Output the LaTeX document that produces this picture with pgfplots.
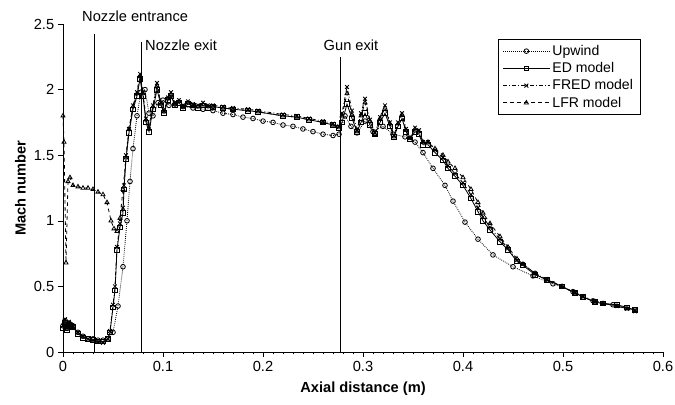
\documentclass[border=0pt]{standalone}
\usepackage{fontspec}
\setmainfont{Liberation Sans}
\usepackage{pgfplots}
\pgfplotsset{compat=1.18}
\begin{document}
\begin{tikzpicture}
\begin{axis}[
    name=ax, at={(0,0)}, anchor=south west,
    scale only axis,
    width=18cm, height=9.84cm,
    xmin=0, xmax=0.6, ymin=0, ymax=2.5,
    axis lines=left,
    axis line style={-, black, line width=0.5pt},
    xtick={0,0.1,...,0.6},
    ytick={0,0.5,...,2.5},
    minor x tick num=9,
    tick align=outside,
    major tick length=4pt, minor tick length=2pt,
    tick style={black, line width=0.4pt},
    xticklabel style={/pgf/number format/fixed, /pgf/number format/precision=1, font=\fontsize{12.5}{14}\selectfont},
    yticklabel style={/pgf/number format/fixed, /pgf/number format/precision=1, font=\fontsize{12.5}{14}\selectfont},
    /pgf/number format/assume math mode=true,
    xlabel={\textbf{Axial distance (m)}},
    ylabel={\textbf{Mach number}},
    label style={font=\fontsize{12.5}{14}\selectfont},
    xlabel style={yshift=-2pt},
    clip=false,
    legend style={at={(0.962,0.954)}, anchor=north east, draw=black, line width=0.4pt,
        font=\fontsize{12}{13}\selectfont, cells={anchor=west}, row sep=0.5pt,
        inner xsep=4pt, inner ysep=3pt},
    legend cell align=left,
    legend image code/.code={\draw[mark repeat=2, mark phase=2] plot coordinates {(0cm,0cm) (0.7cm,0cm) (1.4cm,0cm)};},
    every axis plot/.append style={black, line width=0.7pt, mark size=2pt, mark options={solid, fill=white}},
]
% Upwind
\addplot[densely dotted, mark=o] coordinates {
(0,0.20) (0.002,0.24) (0.004,0.18) (0.006,0.22) (0.008,0.20) (0.01,0.19) (0.015,0.15) (0.02,0.12)
(0.025,0.10) (0.03,0.10) (0.035,0.09) (0.04,0.09) (0.045,0.10) (0.05,0.15) (0.055,0.35) (0.06,0.65)
(0.064,1.00) (0.067,1.30) (0.07,1.55) (0.074,1.80) (0.078,1.98) (0.082,2.00) (0.086,1.82) (0.09,1.80)
(0.095,1.90) (0.1,1.92) (0.106,1.88) (0.112,1.89) (0.12,1.87) (0.13,1.86) (0.14,1.85) (0.15,1.84)
(0.16,1.82) (0.17,1.81) (0.18,1.79) (0.19,1.78) (0.2,1.76) (0.21,1.75) (0.22,1.73) (0.23,1.72)
(0.24,1.70) (0.25,1.68) (0.26,1.66) (0.27,1.65) (0.276,1.66) (0.282,1.80) (0.288,1.72) (0.294,1.67)
(0.302,1.76) (0.31,1.68) (0.32,1.72) (0.33,1.66) (0.342,1.64) (0.352,1.60) (0.36,1.52) (0.37,1.40)
(0.382,1.27) (0.39,1.15) (0.402,0.99) (0.415,0.86) (0.43,0.74) (0.45,0.65) (0.47,0.58) (0.49,0.52)
(0.51,0.46) (0.53,0.39) (0.55,0.36) (0.572,0.32)
};
\addlegendentry{Upwind}
% ED model
\addplot[solid, mark=square] coordinates {
(0,0.18) (0.002,0.22) (0.004,0.17) (0.006,0.21) (0.008,0.20) (0.01,0.19) (0.015,0.14) (0.02,0.11)
(0.025,0.10) (0.03,0.09) (0.035,0.08) (0.04,0.08) (0.045,0.10) (0.047,0.15) (0.05,0.34) (0.052,0.47)
(0.054,0.78) (0.057,0.95) (0.06,1.06) (0.061,1.24) (0.063,1.47) (0.066,1.67) (0.07,1.85) (0.074,1.95)
(0.077,2.08) (0.08,1.95) (0.083,1.75) (0.086,1.68) (0.09,1.85) (0.094,2.00) (0.098,1.88) (0.101,1.82)
(0.105,1.92) (0.108,1.95) (0.112,1.88) (0.116,1.90) (0.12,1.86) (0.125,1.89) (0.13,1.88) (0.135,1.86)
(0.14,1.88) (0.145,1.86) (0.15,1.87) (0.16,1.86) (0.17,1.85) (0.185,1.84) (0.195,1.83) (0.22,1.80)
(0.234,1.79) (0.246,1.77) (0.26,1.75) (0.27,1.73) (0.276,1.71) (0.279,1.75) (0.284,1.89) (0.289,1.78)
(0.294,1.68) (0.298,1.75) (0.302,1.82) (0.307,1.73) (0.312,1.66) (0.317,1.75) (0.322,1.82) (0.327,1.72)
(0.331,1.64) (0.335,1.72) (0.339,1.78) (0.343,1.68) (0.347,1.62) (0.352,1.68) (0.356,1.66) (0.36,1.58)
(0.365,1.58) (0.372,1.52) (0.38,1.46) (0.385,1.40) (0.392,1.34) (0.4,1.27) (0.408,1.17) (0.415,1.07)
(0.42,1.00) (0.427,0.93) (0.437,0.84) (0.445,0.78) (0.454,0.69) (0.46,0.66) (0.472,0.59) (0.484,0.55)
(0.499,0.50) (0.512,0.45) (0.52,0.42) (0.532,0.38) (0.54,0.37) (0.554,0.36) (0.564,0.34) (0.572,0.32)
};
\addlegendentry{ED model}
% FRED model
\addplot[dash dot, mark=x, mark size=2.3pt] coordinates {
(0,0.20) (0.002,0.25) (0.004,0.18) (0.006,0.23) (0.008,0.21) (0.01,0.20) (0.015,0.15) (0.02,0.12)
(0.025,0.10) (0.03,0.09) (0.035,0.08) (0.04,0.07) (0.045,0.10) (0.047,0.16) (0.05,0.36) (0.052,0.50)
(0.054,0.80) (0.057,0.98) (0.06,1.10) (0.061,1.27) (0.063,1.50) (0.066,1.70) (0.07,1.88) (0.074,1.98)
(0.077,2.12) (0.08,1.98) (0.083,1.78) (0.086,1.72) (0.09,1.88) (0.094,2.05) (0.098,1.90) (0.101,1.84)
(0.105,1.94) (0.108,1.98) (0.112,1.90) (0.116,1.92) (0.12,1.88) (0.125,1.91) (0.13,1.89) (0.135,1.88)
(0.14,1.90) (0.145,1.88) (0.15,1.88) (0.16,1.87) (0.17,1.86) (0.185,1.85) (0.195,1.84) (0.22,1.81)
(0.234,1.80) (0.246,1.78) (0.26,1.76) (0.27,1.74) (0.276,1.72) (0.279,1.82) (0.284,2.02) (0.289,1.84)
(0.294,1.69) (0.298,1.82) (0.302,1.93) (0.307,1.77) (0.312,1.67) (0.317,1.79) (0.322,1.88) (0.327,1.75)
(0.331,1.65) (0.335,1.75) (0.339,1.82) (0.343,1.70) (0.347,1.63) (0.352,1.71) (0.356,1.69) (0.36,1.60)
(0.365,1.60) (0.372,1.54) (0.38,1.48) (0.385,1.42) (0.392,1.36) (0.4,1.29) (0.408,1.20) (0.415,1.10)
(0.42,1.03) (0.427,0.95) (0.437,0.86) (0.445,0.79) (0.454,0.70) (0.46,0.67) (0.472,0.60) (0.484,0.55)
(0.499,0.50) (0.512,0.45) (0.52,0.42) (0.532,0.38) (0.54,0.37) (0.554,0.35) (0.564,0.33) (0.572,0.31)
};
\addlegendentry{FRED model}
% LFR model
\addplot[dashed, mark=triangle] coordinates {
(0,1.80) (0.001,1.60) (0.003,0.68) (0.005,1.30) (0.007,1.33) (0.01,1.27) (0.015,1.26) (0.02,1.25)
(0.025,1.25) (0.03,1.24) (0.035,1.22) (0.04,1.20) (0.044,1.14) (0.048,1.00) (0.051,0.94) (0.054,0.92)
(0.057,1.02) (0.06,1.24) (0.063,1.48) (0.066,1.70) (0.07,1.87) (0.074,1.97)
(0.077,2.10) (0.08,1.97) (0.083,1.77) (0.086,1.70) (0.09,1.87) (0.094,2.03) (0.098,1.89) (0.101,1.83)
(0.105,1.93) (0.108,1.96) (0.112,1.89) (0.116,1.91) (0.12,1.87) (0.125,1.90) (0.13,1.88) (0.135,1.87)
(0.14,1.89) (0.145,1.87) (0.15,1.87) (0.16,1.86) (0.17,1.85) (0.185,1.84) (0.195,1.83) (0.22,1.80)
(0.234,1.79) (0.246,1.77) (0.26,1.75) (0.27,1.73) (0.276,1.71) (0.279,1.80) (0.284,1.97) (0.289,1.81)
(0.294,1.68) (0.298,1.80) (0.302,1.90) (0.307,1.76) (0.312,1.66) (0.317,1.78) (0.322,1.86) (0.327,1.74)
(0.331,1.64) (0.335,1.74) (0.339,1.81) (0.343,1.69) (0.347,1.63) (0.352,1.70) (0.356,1.68) (0.36,1.60)
(0.365,1.60) (0.372,1.55) (0.38,1.50) (0.385,1.45) (0.392,1.40) (0.4,1.33) (0.408,1.24) (0.415,1.14)
(0.42,1.06) (0.427,0.98) (0.437,0.88) (0.445,0.80) (0.454,0.71) (0.46,0.67) (0.472,0.60) (0.484,0.55)
(0.499,0.50) (0.512,0.45) (0.52,0.42) (0.532,0.38) (0.54,0.37) (0.554,0.35) (0.564,0.33) (0.572,0.31)
};
\addlegendentry{LFR model}
% station lines
\addplot[solid, no marks, line width=0.7pt, forget plot] coordinates {(0.031,0) (0.031,2.42)};
\addplot[solid, no marks, line width=0.7pt, forget plot] coordinates {(0.078,0) (0.078,2.36)};
\addplot[solid, no marks, line width=0.7pt, forget plot] coordinates {(0.277,0) (0.277,2.25)};
\node[anchor=west, font=\fontsize{12.5}{14}\selectfont, inner sep=0pt] at (axis cs:0.019,2.56) {Nozzle entrance};
\node[anchor=west, font=\fontsize{12.5}{14}\selectfont, inner sep=0pt] at (axis cs:0.082,2.34) {Nozzle exit};
\node[anchor=center, font=\fontsize{12.5}{14}\selectfont, inner sep=0pt] at (axis cs:0.288,2.34) {Gun exit};
\end{axis}
\pgfresetboundingbox
\path[use as bounding box] (-1.89cm,-1.59cm) rectangle (18.36cm,10.56cm);
\end{tikzpicture}
\end{document}
